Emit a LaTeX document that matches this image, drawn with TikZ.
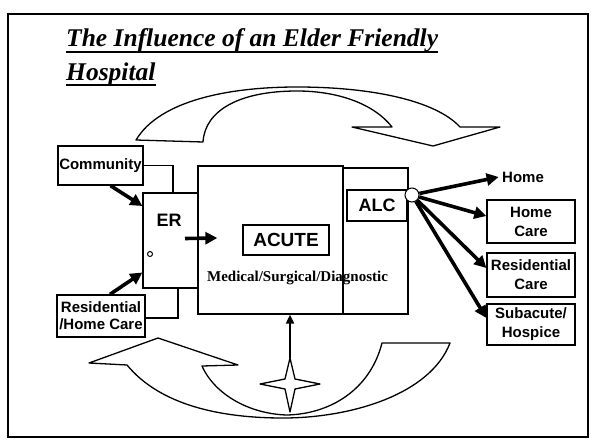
\documentclass[tikz,border=0pt]{standalone}
\usepackage{fontspec}
\setmainfont{Liberation Serif}
\setsansfont{Liberation Sans}
\usetikzlibrary{arrows.meta}
\tikzstyle{box}=[rectangle, draw, line width=1.3pt, inner sep=0pt, align=center, font=\sffamily\bfseries\fontsize{15}{19}\selectfont]
\tikzstyle{tag}=[box, font=\sffamily\bfseries\fontsize{18}{20}\selectfont]
\tikzstyle{heading}=[inner sep=0pt, font=\fontsize{25.5}{28}\selectfont\bfseries\itshape]
\tikzstyle{wire}=[line width=1.3pt]
\tikzstyle{fat}=[line width=3.6pt, -{Triangle[length=12pt,width=12pt]}]
\tikzstyle{swoop}=[line width=1.3pt, line join=round, fill=white]

\begin{document}
\begin{tikzpicture}[x=1pt, y=-1pt]
\useasboundingbox (0,0) rectangle (596,444);
\draw[line width=2.5pt] (8,14) rectangle (588,437);

\node[heading, anchor=base west] (head1) at (66,47) {The Influence of an Elder Friendly};
\node[heading, anchor=base west] (head2) at (66,80) {Hospital};
\foreach \n in {head1,head2}
  \draw[line width=1.8pt] ([yshift=-5pt]\n.base west) -- ([yshift=-5pt]\n.base east);

\draw[swoop] (136,140) .. controls (160,100) and (230,87) .. (297,87)
  .. controls (370,87) and (435,100) .. (460,127) -- (500,127) -- (433,146)
  -- (352,127) -- (392,127) .. controls (375,105) and (340,91) .. (297,91)
  .. controls (240,91) and (205,110) .. (203,142) -- cycle;

\draw[swoop] (127,365) .. controls (160,405) and (220,418) .. (283,418)
  .. controls (350,418) and (430,395) .. (450,343) -- (382,343)
  .. controls (370,390) and (330,414) .. (287,415)
  .. controls (250,414) and (215,395) .. (202,366) -- (238,365)
  -- (158,338) -- (89,363) -- cycle;

\node[box, minimum width=145pt, minimum height=148pt] (acute) at (270.5,240) {};
\node[box, minimum width=65pt, minimum height=146pt] (alccol) at (375.5,241) {};
\node[tag, minimum width=60pt, minimum height=31pt] (alctag) at (377,205.5) {ALC};
\node[tag, font=\sffamily\bfseries\fontsize{19}{20}\selectfont, minimum width=86pt, minimum height=30pt] (acutetag) at (286,240) {ACUTE};
\node[font=\bfseries\fontsize{15}{16}\selectfont] (medtxt) at (297.5,278) {Medical/Surgical/Diagnostic};

\node[box, minimum width=55pt, minimum height=95pt] (er) at (170.5,240.5) {};
\node[font=\sffamily\bfseries\fontsize{18}{20}\selectfont] (ertag) at (169,220) {ER};
\node[circle, draw, line width=1pt, minimum size=5pt, inner sep=0pt] (knob) at (150,254) {};

\node[box, minimum width=85pt, minimum height=39pt] (comm) at (100.5,165.5) {Community};
\node[box, font=\sffamily\bfseries\fontsize{15}{17}\selectfont, minimum width=88pt, minimum height=42pt] (resid) at (101,316) {Residential\\/Home Care};

\draw[wire] (comm.east) -| ([xshift=2.5pt]er.north);
\draw[wire] ([yshift=-2pt]resid.east) -| ([xshift=7.5pt]er.south);
\draw[fat] ([xshift=10pt]comm.south) -- ([yshift=34.5pt]er.west);
\draw[fat] ([xshift=9pt]resid.north) -- ([yshift=-32pt]er.west);
\draw[fat] ([xshift=14.5pt,yshift=2pt]er.center) -- ([xshift=20pt,yshift=2pt]acute.west);

\node[font=\sffamily\bfseries\fontsize{15}{17}\selectfont] (home) at (523,177) {Home};
\node[box, minimum width=88pt, minimum height=43pt] (hcare) at (531,221.5) {Home\\Care};
\node[box, minimum width=88pt, minimum height=44pt] (rcare) at (531,275) {Residential\\Care};
\node[box, minimum width=88pt, minimum height=41pt] (subac) at (531,324.5) {Subacute/\\Hospice};

\node[circle, draw, fill=white, line width=1pt, minimum size=14pt, inner sep=0pt] (hub) at (412,195) {};
\draw[fat] (hub) -- (home.west);
\foreach \b/\s in {hcare/5.5, rcare/7, subac/6.5}
  \draw[fat] (hub) -- ([yshift=\s pt]\b.west);

\draw[swoop] (290,358) -- (295,379) -- (320,384) -- (295,389) -- (290,412)
  -- (285,389) -- (260,384) -- (285,379) -- cycle;
\coordinate (spark) at (290,358);
\draw[line width=2pt, -{Triangle[length=9pt,width=8pt]}] (spark) -- (spark |- acute.south);
\end{tikzpicture}
\end{document}
